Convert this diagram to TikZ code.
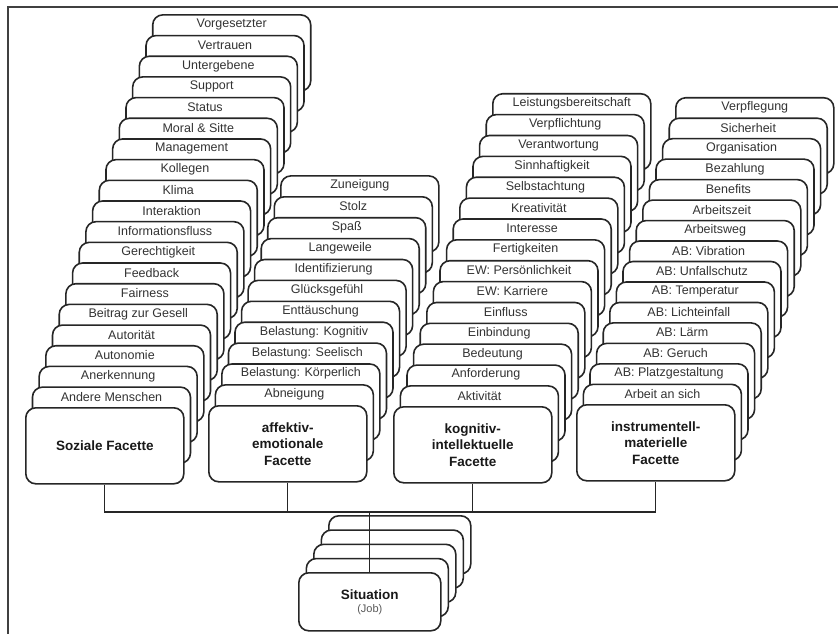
\documentclass[tikz,border=0pt]{standalone}
\usepackage{fontspec}
\setmainfont{Liberation Sans}
\tikzset{
  card/.style={draw=black!85, line width=1.6pt, fill=white, rounded corners=10pt,
    minimum width=158pt, minimum height=76pt, anchor=north west, inner sep=0pt},
  sitcard/.style={card, minimum width=142pt, minimum height=58pt},
  cardtext/.style={font=\fontsize{12.5}{14}\selectfont, text=black!80, inner sep=0pt},
  fronttext/.style={font=\bfseries\fontsize{13.5}{16.5}\selectfont, align=center, text=black!90},
  conn/.style={draw=black!85, line width=1.3pt},
  frame/.style={draw=black!75, line width=1.6pt}
}
\begin{document}
\begin{tikzpicture}[x=1pt,y=-1pt]
\useasboundingbox (0,0) rectangle (838,634);
\draw[frame] (8,634) -- (8,7) -- (838,7);

% Soziale Facette
\foreach \t [count=\i] in {Vorgesetzter, Vertrauen, Untergebene, Support, Status, Moral \& Sitte, Management, Kollegen, Klima, Interaktion, Informationsfluss, Gerechtigkeit, Feedback, Fairness, Beitrag zur Gesell, Autorität, Autonomie, Anerkennung, Andere Menschen}{
  \pgfmathsetmacro\k{20-\i}
  \node[card] (soz\i) at ({25+6.68*\k},{407-20.68*\k}) {};
  \node[cardtext] (sozt\i) at ([yshift=-10.5pt]soz\i.north) {\t};
}
\node[card, fronttext] (sozF) at (25,407) {Soziale Facette};

% affektiv-emotionale Facette
\foreach \t [count=\i] in {Zuneigung, Stolz, Spaß, Langeweile, Identifizierung, Glücksgefühl, Enttäuschung, Belastung: Kognitiv, Belastung: Seelisch, Belastung: Körperlich, Abneigung}{
  \pgfmathsetmacro\k{12-\i}
  \node[card] (aff\i) at ({208+6.55*\k},{405-20.9*\k}) {};
  \node[cardtext] (afft\i) at ([yshift=-10.5pt]aff\i.north) {\t};
}
\node[card, fronttext] (affF) at (208,405) {affektiv-\\emotionale\\Facette};

% kognitiv-intellektuelle Facette
\foreach \t [count=\i] in {Leistungsbereitschaft, Verpflichtung, Verantwortung, Sinnhaftigkeit, Selbstachtung, Kreativität, Interesse, Fertigkeiten, EW: Persönlichkeit, EW: Karriere, Einfluss, Einbindung, Bedeutung, Anforderung, Aktivität}{
  \pgfmathsetmacro\k{16-\i}
  \node[card] (kog\i) at ({393+6.6*\k},{406-20.87*\k}) {};
  \node[cardtext] (kogt\i) at ([yshift=-10.5pt]kog\i.north) {\t};
}
\node[card, fronttext] (kogF) at (393,406) {kognitiv-\\intellektuelle\\Facette};

% instrumentell-materielle Facette
\foreach \t [count=\i] in {Verpflegung, Sicherheit, Organisation, Bezahlung, Benefits, Arbeitszeit, Arbeitsweg, AB: Vibration, AB: Unfallschutz, AB: Temperatur, AB: Lichteinfall, AB: Lärm, AB: Geruch, AB: Platzgestaltung, Arbeit an sich}{
  \pgfmathsetmacro\k{16-\i}
  \node[card] (ins\i) at ({576+6.6*\k},{404-20.47*\k}) {};
  \node[cardtext] (inst\i) at ([yshift=-10.5pt]ins\i.north) {\t};
}
\node[card, fronttext] (insF) at (576,404) {instrumentell-\\materielle\\Facette};

% Situation stack
\foreach \k in {4,3,2,1}{
  \node[sitcard] (sit\k) at ({298+7.5*\k},{572-14.25*\k}) {};
}
\node[sitcard] (sitF) at (298,572) {};
\node[font=\bfseries\fontsize{13.5}{15}\selectfont, text=black!90, inner sep=0pt] (sitT) at ([yshift=7pt]sitF.center) {Situation};
\node[font=\fontsize{11}{13}\selectfont, text=black!65, inner sep=0pt] (sitJ) at ([yshift=-8pt]sitF.center) {(Job)};

% connectors
\coordinate (bus) at (sitF.north |- 0,512);
\draw[conn] (sozF.south) |- (insF.south |- bus) -- (insF.south);
\draw[conn] (affF.south) -- (affF.south |- bus);
\draw[conn] (kogF.south) -- (kogF.south |- bus);
\draw[conn] (bus) -- (sitF.north);
\end{tikzpicture}
\end{document}
